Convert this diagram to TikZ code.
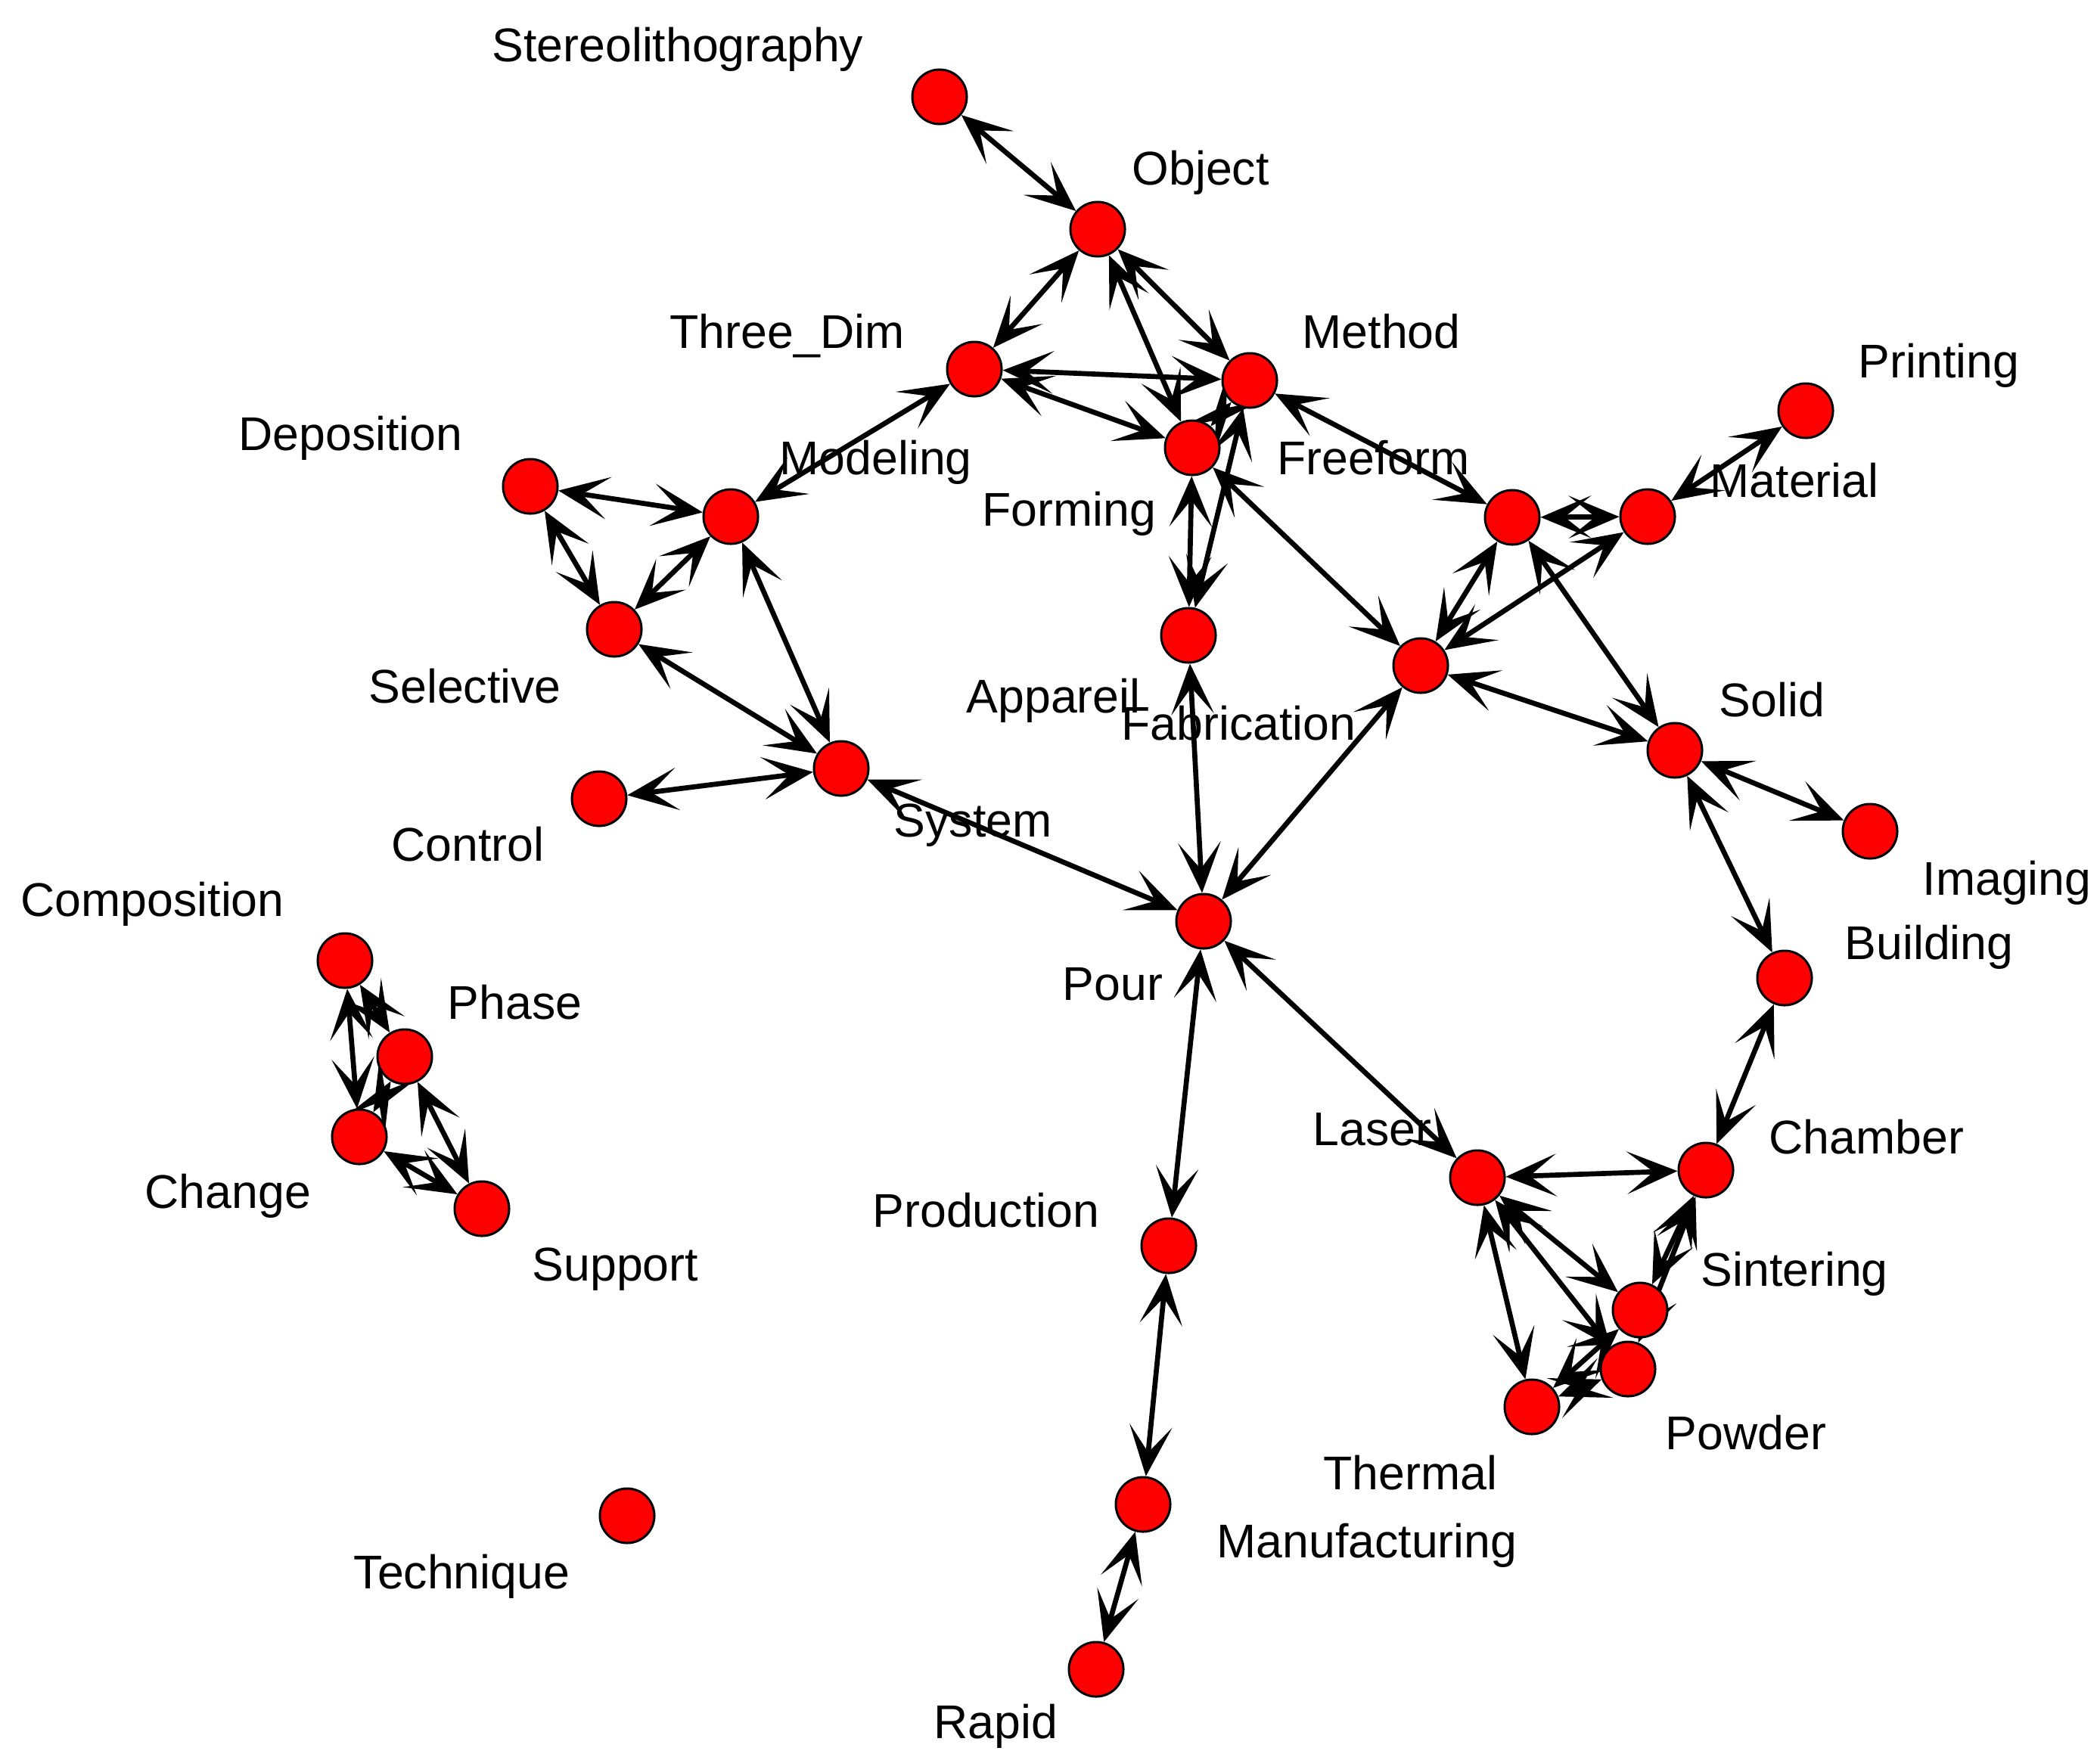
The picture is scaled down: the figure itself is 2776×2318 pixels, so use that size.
\documentclass[tikz,border=0pt]{standalone}
\usepackage{fontspec}
\setmainfont{Liberation Sans}
\usetikzlibrary{arrows.meta}
\pgfdeclarelayer{bg}
\pgfsetlayers{bg,main}
\begin{document}
\begin{tikzpicture}[x=0.01cm,y=-0.01cm,
  vert/.style={circle,fill=red,draw=black,line width=0.85pt,minimum size=0.72cm,inner sep=0pt},
  lbl/.style={anchor=base west,inner sep=0pt,font=\fontsize{17.8pt}{20pt}\selectfont},
  tie/.style={line width=1.9pt,{Stealth[length=19pt,width=16pt,inset=10pt]}-{Stealth[length=19pt,width=16pt,inset=10pt]}}]
\useasboundingbox (0,0) rectangle (2776,2318);
% vertices
\node[vert] (stereo) at (1242,128) {};
\node[vert] (object) at (1451,303) {};
\node[vert] (threedim) at (1288,488) {};
\node[vert] (method) at (1652,503) {};
\node[vert] (forming) at (1576,592) {};
\node[vert] (appareil) at (1571,840) {};
\node[vert] (fabrication) at (1878,880) {};
\node[vert] (freeform) at (1999,684) {};
\node[vert] (material) at (2178,683) {};
\node[vert] (printing) at (2387,543) {};
\node[vert] (solid) at (2214,992) {};
\node[vert] (imaging) at (2472,1099) {};
\node[vert] (building) at (2359,1293) {};
\node[vert] (modeling) at (966,683) {};
\node[vert] (deposition) at (701,643) {};
\node[vert] (selective) at (812,832) {};
\node[vert] (system) at (1112,1016) {};
\node[vert] (control) at (792,1056) {};
\node[vert] (pour) at (1591,1218) {};
\node[vert] (laser) at (1953,1557) {};
\node[vert] (chamber) at (2255,1547) {};
\node[vert] (sintering) at (2168,1732) {};
\node[vert] (powder) at (2152,1810) {};
\node[vert] (thermal) at (2025,1860) {};
\node[vert] (production) at (1545,1647) {};
\node[vert] (manufacturing) at (1511,1989) {};
\node[vert] (rapid) at (1449,2207) {};
\node[vert] (composition) at (456,1270) {};
\node[vert] (phase) at (535,1397) {};
\node[vert] (change) at (475,1503) {};
\node[vert] (support) at (637,1598) {};
\node[vert] (technique) at (829,2004) {};
% labels
\node[lbl] (lstereo) at (650,81) {Stereolithography};
\node[lbl] (lobject) at (1496,244) {Object};
\node[lbl] (lthreedim) at (885,460) {Three\_Dim};
\node[lbl] (lmethod) at (1721,460) {Method};
\node[lbl] (lprinting) at (2456,499) {Printing};
\node[lbl] (ldeposition) at (315,595) {Deposition};
\node[lbl] (lmodeling) at (1030,627) {Modeling};
\node[lbl] (lfreeform) at (1688,627) {Freeform};
\node[lbl] (lmaterial) at (2260,657) {Material};
\node[lbl] (lforming) at (1298,695) {Forming};
\node[lbl] (lselective) at (487,929) {Selective};
\node[lbl] (lappareil) at (1277,942) {Appareil};
\node[lbl] (lfabrication) at (1482,978) {Fabrication};
\node[lbl] (lsolid) at (2272,947) {Solid};
\node[lbl] (lsystem) at (1181,1106) {System};
\node[lbl] (lcontrol) at (517,1138) {Control};
\node[lbl] (limaging) at (2541,1183) {Imaging};
\node[lbl] (lcomposition) at (27,1211) {Composition};
\node[lbl] (lbuilding) at (2438,1268) {Building};
\node[lbl] (lpour) at (1404,1322) {Pour};
\node[lbl] (lphase) at (591,1347) {Phase};
\node[lbl] (llaser) at (1735,1514) {Laser};
\node[lbl] (lchamber) at (2338,1525) {Chamber};
\node[lbl] (lchange) at (191,1597) {Change};
\node[lbl] (lproduction) at (1153,1622) {Production};
\node[lbl] (lsupport) at (703,1693) {Support};
\node[lbl] (lsintering) at (2248,1700) {Sintering};
\node[lbl] (lpowder) at (2201,1916) {Powder};
\node[lbl] (lthermal) at (1749,1969) {Thermal};
\node[lbl] (lmanufacturing) at (1608,2059) {Manufacturing};
\node[lbl] (ltechnique) at (467,2100) {Technique};
\node[lbl] (lrapid) at (1234,2298) {Rapid};
% ties
\begin{pgfonlayer}{bg}
\foreach \a/\b in {stereo/object, object/threedim, object/method, object/forming,
  threedim/method, threedim/forming, threedim/modeling, method/forming,
  method/freeform, method/appareil, forming/appareil, forming/fabrication,
  modeling/deposition, modeling/selective, modeling/system, deposition/selective,
  selective/system, system/control, system/pour, appareil/pour, fabrication/pour,
  freeform/material, freeform/fabrication, material/fabrication, material/printing,
  freeform/solid, fabrication/solid, solid/imaging, solid/building, building/chamber,
  pour/laser, pour/production, production/manufacturing, manufacturing/rapid,
  laser/chamber, laser/sintering, laser/powder, laser/thermal, chamber/sintering,
  chamber/powder, thermal/sintering, thermal/powder,
  composition/phase, composition/change, phase/change, phase/support, change/support}
  \draw[tie] (\a) -- (\b);
\end{pgfonlayer}
\end{tikzpicture}
\end{document}
